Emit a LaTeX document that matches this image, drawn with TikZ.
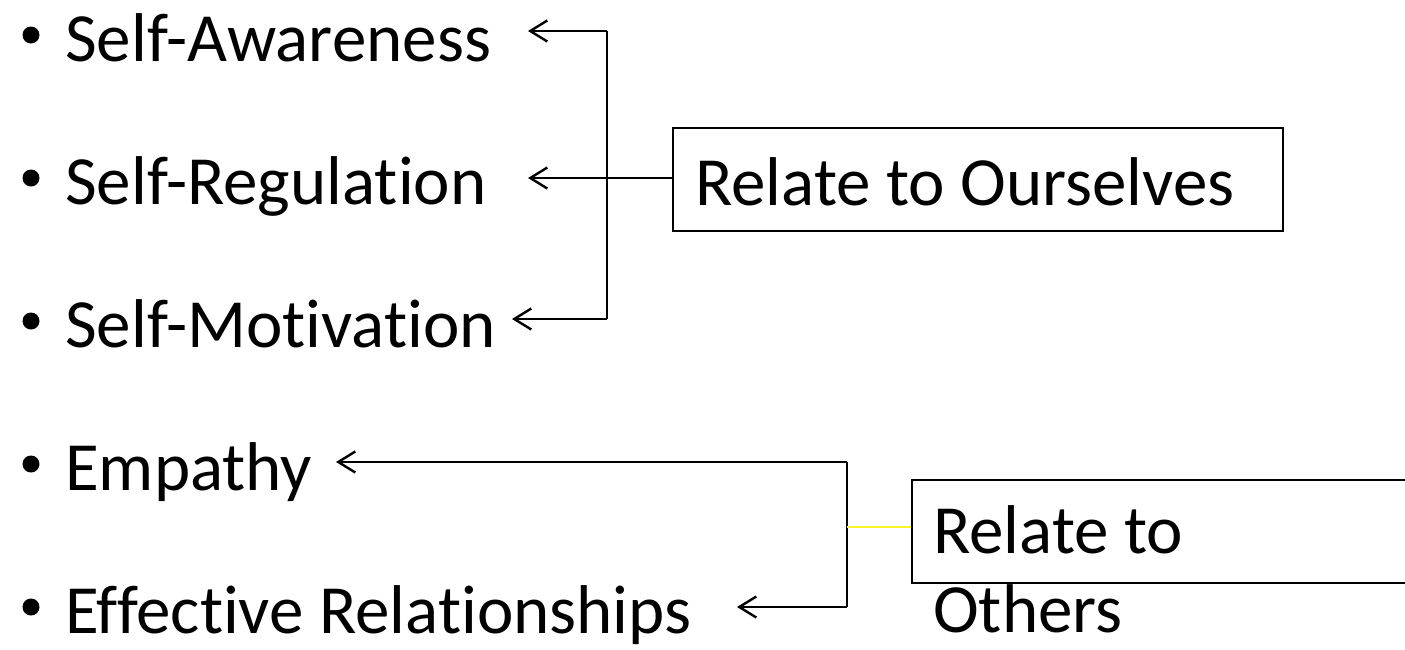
\documentclass[tikz,border=0pt]{standalone}
\usepackage{fontspec}
\setmainfont{Carlito}[Ligatures={NoCommon}]
\usetikzlibrary{arrows.meta}
\definecolor{linkyellow}{RGB}{250,245,40}
\begin{document}
\begin{tikzpicture}[x=1pt,y=-1pt,
  item/.style={anchor=base west,inner sep=0pt,font=\fontsize{69}{69}\selectfont},
  dot/.style={circle,fill=black,inner sep=0pt,minimum size=17pt},
  frame/.style={draw=black,line width=2.4pt,anchor=north west,inner sep=0pt},
  link/.style={line width=2.4pt,draw=black},
  pointer/.style={link,-{Straight Barb[length=17pt,width=21pt,line width=2.4pt]}},
  tint/.style={line width=2.4pt,draw=linkyellow}]
\useasboundingbox (0,0) rectangle (1405,649);

% bullet list
\node[dot] (b1) at (31,35) {};
\node[item] (i1) at (65,61) {Self-Awareness};
\node[dot] (b2) at (31,178) {};
\node[item] (i2) at (65,204) {Self-Regulation};
\node[dot] (b3) at (31,321) {};
\node[item] (i3) at (65,347) {Self-Motivation};
\node[dot] (b4) at (31,464) {};
\node[item] (i4) at (65,490) {Empathy};
\node[dot] (b5) at (31,607) {};
\node[item] (i5) at (65,633) {Effective Relationships};

% group boxes
\node[frame,minimum width=610pt,minimum height=103pt] (box1) at (672,127) {};
\node[item] (l1) at (695,205) {Relate to Ourselves};
\node[frame,minimum width=520pt,minimum height=103pt] (box2) at (911,479) {};
\node[anchor=base west,inner sep=0pt,align=left,
      font=\fontsize{69}{79}\selectfont] (l2) at (933,632) {Relate to\\Others};

% bracket for the first three items
\coordinate (a1) at (607,31);
\coordinate (a2) at (607,178);
\coordinate (a3) at (607,319);
\coordinate (t1) at (528,31);
\coordinate (t2) at (528,178);
\coordinate (t3) at (512,319);
\draw[link] (a1) -- (a3);
\draw[pointer] (a1) -- (t1);
\draw[pointer] (a2) -- (t2);
\draw[pointer] (a3) -- (t3);
\draw[link] (a2) -- (a2 -| box1.west);

% bracket for the last two items
\coordinate (c1) at (847,462);
\coordinate (c2) at (847,527);
\coordinate (c3) at (847,607);
\coordinate (t4) at (336,462);
\coordinate (t5) at (737,607);
\draw[link] (c1) -- (c3);
\draw[pointer] (c1) -- (t4);
\draw[pointer] (c3) -- (t5);
\draw[tint] (c2) -- (c2 -| box2.west);
\end{tikzpicture}
\end{document}
